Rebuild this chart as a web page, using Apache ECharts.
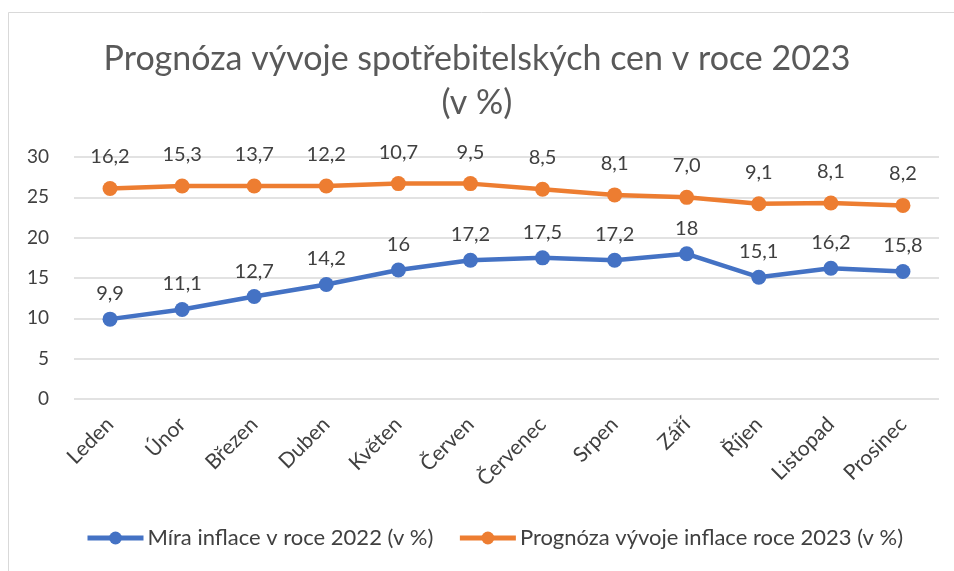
<!DOCTYPE html>
<html>
<head>
<meta charset="utf-8">
<script src="https://cdn.jsdelivr.net/npm/echarts@6/dist/echarts.min.js"></script>
<style>
  html, body { margin: 0; padding: 0; background: #fff; }
  #chart { width: 954px; height: 571px; }
</style>
</head>
<body>
<div id="chart"></div>
<script>
  var months = ['Leden', 'Únor', 'Březen', 'Duben', 'Květen', 'Červen', 'Červenec', 'Srpen', 'Září', 'Říjen', 'Listopad', 'Prosinec'];
  // mira inflace 2022
  var inflace2022 = [9.9, 11.1, 12.7, 14.2, 16, 17.2, 17.5, 17.2, 18, 15.1, 16.2, 15.8];
  // prognoza 2023 (skladany na 2022)
  var prognoza2023 = [16.2, 15.3, 13.7, 12.2, 10.7, 9.5, 8.5, 8.1, 7.0, 9.1, 8.1, 8.2];
  var yTicks = [0, 5, 10, 15, 20, 25, 30];

  var font = 'Lato, "Open Sans", sans-serif';
  var txt = '#404040';

  var myChart = echarts.init(document.getElementById('chart'));
  var option = {
    backgroundColor: '#fff',
    animation: false,
    title: {
      text: 'Prognóza vývoje spotřebitelských cen v roce 2023\n(v %)',
      left: 'center',
      top: 32,
      textStyle: {
        fontFamily: font,
        fontSize: 34,
        fontWeight: 400,
        color: '#595959',
        lineHeight: 44
      }
    },
    graphic: [{
      type: 'rect',
      shape: { x: 8.5, y: 12.5, width: 960, height: 600 },
      style: { fill: 'none', stroke: '#d9d9d9', lineWidth: 1 },
      silent: true
    }],
    legend: {
      bottom: 17,
      left: 80,
      itemWidth: 56,
      itemHeight: 16,
      itemGap: 24,
      lineStyle: { width: 5 },
      textStyle: { fontFamily: font, fontSize: 22, color: txt, padding: [0, 0, 0, -1] },
      data: ['Míra inflace v roce 2022 (v %)', 'Prognóza vývoje inflace roce 2023 (v %)']
    },
    grid: {
      left: 74,
      right: 15,
      top: 157,
      bottom: 172
    },
    xAxis: {
      type: 'category',
      data: months,
      boundaryGap: true,
      axisLine: { show: false },
      axisTick: { show: false },
      axisLabel: {
        rotate: 45,
        margin: 22,
        fontFamily: font,
        fontSize: 21,
        color: txt
      }
    },
    yAxis: {
      type: 'value',
      min: yTicks[0],
      max: yTicks[yTicks.length - 1],
      interval: 5,
      axisLine: { show: false },
      axisTick: { show: false },
      axisLabel: {
        margin: 25,
        fontFamily: font,
        fontSize: 19,
        color: txt
      },
      splitLine: { lineStyle: { color: '#d9d9d9', width: 1.5 } }
    },
    series: [{
      name: 'Míra inflace v roce 2022 (v %)',
      type: 'line',
      stack: 'celkem',
      data: inflace2022,
      symbol: 'circle',
      symbolSize: 15,
      color: '#4472c4',
      lineStyle: { width: 4.5, color: '#4472c4' },
      itemStyle: { color: '#4472c4' },
      label: {
        show: true,
        position: 'top',
        distance: 8,
        fontFamily: font,
        fontSize: 20,
        color: txt,
        formatter: function (p) { return String(p.value).replace('.', ','); }
      }
    }, {
      name: 'Prognóza vývoje inflace roce 2023 (v %)',
      type: 'line',
      stack: 'celkem',
      data: prognoza2023,
      symbol: 'circle',
      symbolSize: 15,
      color: '#ed7d31',
      lineStyle: { width: 4.5, color: '#ed7d31' },
      itemStyle: { color: '#ed7d31' },
      label: {
        show: true,
        position: 'top',
        distance: 14,
        fontFamily: font,
        fontSize: 20,
        color: txt,
        formatter: function (p) { return p.value.toFixed(1).replace('.', ','); }
      }
    }]
  };
  myChart.setOption(option);
</script>
</body>
</html>
